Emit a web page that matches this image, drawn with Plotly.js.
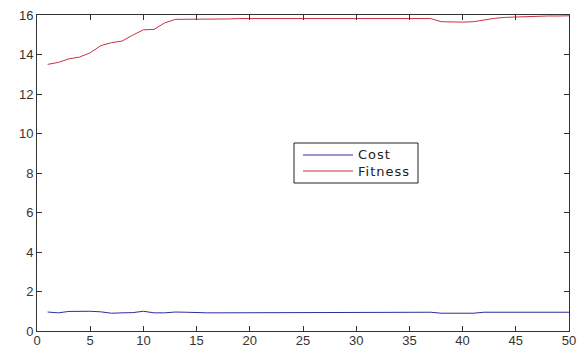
<!DOCTYPE html>
<html><head><meta charset="utf-8">
<script src="https://cdn.plot.ly/plotly-3.0.1.min.js"></script>
<style>html,body{margin:0;padding:0;background:#fff}#plot{width:579px;height:347px}
.annotation-text{letter-spacing:1px}</style>
</head><body><div id="plot"></div>
<script>
var generations = [];
for (var i = 1; i <= 50; i++) generations.push(i);
var costValues = [0.96,0.92,0.99,1.0,1.0,0.97,0.9,0.92,0.93,1.0,0.92,0.92,0.96,0.95,0.92,0.92,0.92,0.92,0.95,0.95,
  0.95,0.95,0.95,0.95,0.95,0.95,0.95,0.95,0.95,0.95,0.95,0.95,0.95,0.95,0.95,0.95,0.95,0.9,0.9,0.9,
  0.9,0.95,0.95,0.95,0.95,0.95,0.95,0.95,0.95,0.95];
var fitnessValues = [13.5,13.6,13.78,13.87,14.09,14.45,14.6,14.68,14.98,15.25,15.27,15.6,15.78,15.78,15.78,15.78,15.78,15.8,15.82,15.82,
  15.82,15.82,15.82,15.82,15.82,15.82,15.82,15.82,15.82,15.82,15.82,15.82,15.82,15.82,15.82,15.82,15.82,15.66,15.64,15.64,
  15.66,15.75,15.83,15.88,15.9,15.92,15.95,15.95,15.95,15.96];
var seriesNames = ['Cost', 'Fitness'];
var seriesColors = ['#2e2e9e', '#cc3040'];
var xTicks = [0,5,10,15,20,25,30,35,40,45,50];
var yTicks = [0,2,4,6,8,10,12,14,16];

var W = 579, H = 347, mL = 37, mR = 10, mT = 15, mB = 16;
var pw = W - mL - mR, ph = H - mT - mB;
function px(x) { return (x - mL) / pw; }
function py(y) { return 1 - (y - mT) / ph; }

var traces = [
  {x: generations, y: costValues, name: seriesNames[0], mode: 'lines', line: {color: seriesColors[0], width: 1}},
  {x: generations, y: fitnessValues, name: seriesNames[1], mode: 'lines', line: {color: seriesColors[1], width: 1}}
];
var font = {family: 'Liberation Sans, Arial, sans-serif', size: 13, color: '#333'};
var axisCommon = {showgrid: false, zeroline: false, showline: true, linecolor: '#333', linewidth: 1,
  mirror: 'allticks', ticks: 'inside', ticklen: 5, tickcolor: '#333', tickfont: font};

// manual legend box (pixel layout converted to paper coords)
var legRowY = [155, 171];
var shapes = [
  {type: 'rect', xref: 'paper', yref: 'paper', x0: px(294), x1: px(418), y0: py(143), y1: py(183),
    line: {color: '#222', width: 1}, fillcolor: '#fff', layer: 'above'}
];
var annotations = [];
var annFont = {family: 'DejaVu Sans, sans-serif', size: 13, color: '#222'};
for (var k = 0; k < 2; k++) {
  shapes.push({type: 'line', xref: 'paper', yref: 'paper', x0: px(303), x1: px(353), y0: py(legRowY[k]), y1: py(legRowY[k]),
    line: {color: seriesColors[k], width: 1}, layer: 'above'});
  annotations.push({xref: 'paper', yref: 'paper', x: px(356), y: py(legRowY[k]), text: seriesNames[k], showarrow: false,
    xanchor: 'left', yanchor: 'middle', font: annFont});
}

var layout = {
  width: W, height: H,
  margin: {l: mL, r: mR, t: mT, b: mB},
  paper_bgcolor: '#fff', plot_bgcolor: '#fff',
  showlegend: false,
  shapes: shapes, annotations: annotations,
  xaxis: Object.assign({}, axisCommon, {range: [0, 50], tickvals: xTicks, ticktext: xTicks.map(String), ticklabelstandoff: -3}),
  yaxis: Object.assign({}, axisCommon, {range: [0, 16], tickvals: yTicks, ticktext: yTicks.map(String)})
};
Plotly.newPlot('plot', traces, layout, {displayModeBar: false, staticPlot: true});
</script></body></html>
